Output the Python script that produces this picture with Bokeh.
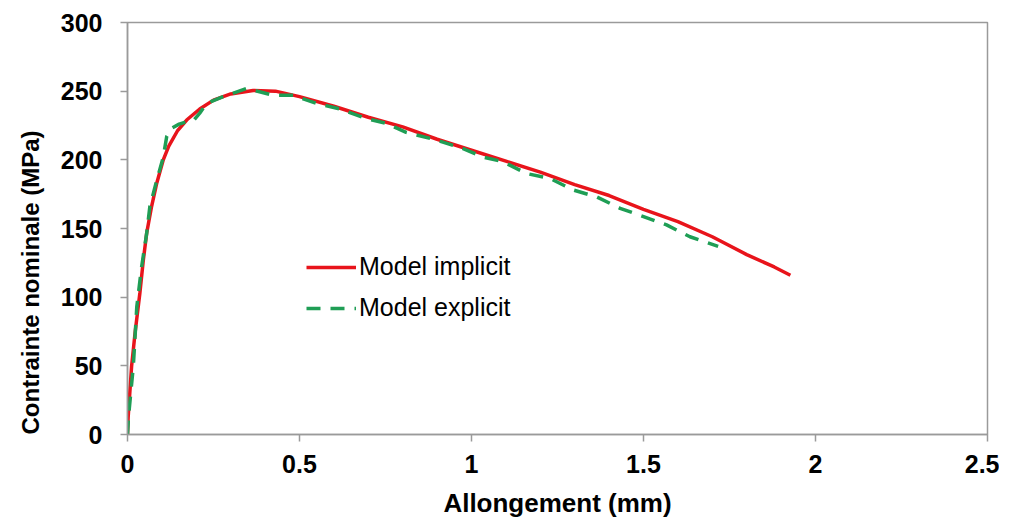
from bokeh.plotting import figure
from bokeh.models import Range1d, Legend, LegendItem, FixedTicker, Title
from bokeh.embed import file_html
from bokeh.resources import INLINE

# Model implicit (red, solid)
impl_x = [0, 0.002, 0.012, 0.022, 0.036, 0.046, 0.056, 0.07, 0.085, 0.104, 0.12, 0.145,
          0.172, 0.21, 0.25, 0.3, 0.365, 0.43, 0.5, 0.6, 0.7, 0.8, 0.9, 1.0, 1.1, 1.2,
          1.3, 1.4, 1.5, 1.6, 1.7, 1.8, 1.88, 1.927]
impl_y = [0, 13, 50, 74, 103, 127, 147, 166, 183, 200, 210, 221,
          229, 237, 243.5, 248, 250.5, 250, 246, 239, 231, 224, 215, 207, 199, 191,
          182, 174, 164, 155, 144, 131, 122, 116]

# Model explicit (green, dashed)
expl_x = [0, 0.003, 0.017, 0.027, 0.041, 0.056, 0.065, 0.085, 0.104, 0.114, 0.128, 0.15,
          0.172, 0.191, 0.21, 0.23, 0.278, 0.347, 0.424, 0.482, 0.55, 0.618, 0.695, 0.753,
          0.81, 0.889, 0.967, 1.034, 1.092, 1.16, 1.228, 1.296, 1.364, 1.432, 1.5, 1.567,
          1.635, 1.717]
expl_y = [0, 13, 50, 93, 122, 147, 166, 185, 202, 217, 223, 226,
          227.7, 228.4, 234, 241, 246, 252, 247, 247, 241, 237, 230, 226.5,
          220, 215, 209, 202, 198.6, 190, 186.5, 178, 173, 164.7, 158.7, 152.6,
          144, 137]

x_ticks = [0, 0.5, 1, 1.5, 2, 2.5]
y_ticks = [0, 50, 100, 150, 200, 250, 300]
x_label = "Allongement (mm)"
y_label = "Contrainte nominale (MPa)"
names = ["Model implicit", "Model explicit"]

p = figure(frame_width=860, frame_height=412, output_backend="svg", toolbar_location=None,
           x_range=Range1d(0, 2.5), y_range=Range1d(0, 300),
           min_border_left=127, min_border_top=22, min_border_right=12, min_border_bottom=84)
p.background_fill_color = "white"
p.border_fill_color = "white"
p.outline_line_color = "#9a9a9a"
p.outline_line_width = 1.5
p.xgrid.visible = False
p.ygrid.visible = False

for ax, ticks in ((p.xaxis, x_ticks), (p.yaxis, y_ticks)):
    ax.ticker = FixedTicker(ticks=ticks)
    ax.axis_line_color = "#9a9a9a"
    ax.axis_line_width = 1.5
    ax.major_tick_line_color = "#9a9a9a"
    ax.major_tick_line_width = 1.5
    ax.major_tick_in = 0
    ax.major_tick_out = 7
    ax.minor_tick_line_color = None
    ax.major_label_text_font = "Liberation Sans"
    ax.major_label_text_font_style = "bold"
    ax.major_label_text_font_size = "25px"
    ax.major_label_text_color = "black"
    ax.axis_label_text_font = "Liberation Sans"
    ax.axis_label_text_font_style = "bold"
    ax.axis_label_text_color = "black"

p.xaxis.axis_label = x_label
p.xaxis.axis_label_text_font_size = "26px"
p.xaxis.major_label_standoff = 13
p.xaxis.axis_label_standoff = 12
p.yaxis.major_label_standoff = 18
p.xaxis.formatter.use_scientific = False

# y-axis title (starts near the frame bottom, as in the reference)
ytitle = Title(text=y_label, align="left", offset=0, standoff=28,
               text_font="Liberation Sans", text_font_style="bold",
               text_font_size="24px", text_color="black")
p.add_layout(ytitle, "left")

r1 = p.line(impl_x, impl_y, line_color="#e8141b", line_width=3.5)
r2 = p.line(expl_x, expl_y, line_color="#1f9e55", line_width=3.5, line_dash="14 10")

legend = Legend(items=[LegendItem(label=names[0], renderers=[r1]),
                       LegendItem(label=names[1], renderers=[r2])],
                location=(179, 112), orientation="vertical",
                glyph_width=50, glyph_height=20, label_standoff=3, spacing=12,
                padding=0, margin=0, border_line_color=None, background_fill_alpha=0,
                label_text_font="Liberation Sans", label_text_font_size="25px",
                label_text_color="black")
p.add_layout(legend, "center")

open("out.html", "w").write(file_html(p, INLINE))
